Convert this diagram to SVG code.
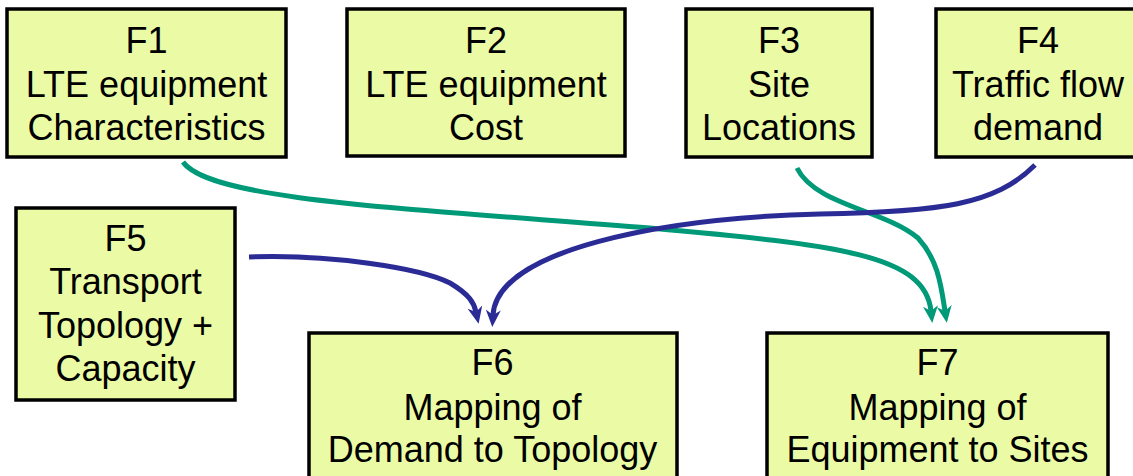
<svg xmlns="http://www.w3.org/2000/svg" width="1133" height="476" viewBox="0 0 1133 476">
<style>
.box{fill:#ebfba5;stroke:#000;stroke-width:3.5}
.t{font-family:"Liberation Sans",Arial,sans-serif;font-size:36px;fill:#000;text-anchor:middle}
.blue{fill:none;stroke:#2b2b96;stroke-width:5}
.green{fill:none;stroke:#009a78;stroke-width:5}
</style>
<defs>
<marker id="ab" markerUnits="userSpaceOnUse" viewBox="-8 -10 22 20" markerWidth="22" markerHeight="20" refX="0" refY="0" orient="auto">
<path d="M12,0 L-5,-7.5 L0,0 L-5,7.5 Z" fill="#2b2b96"/>
</marker>
<marker id="ag" markerUnits="userSpaceOnUse" viewBox="-8 -10 22 20" markerWidth="22" markerHeight="20" refX="0" refY="0" orient="auto">
<path d="M12,0 L-5,-7.5 L0,0 L-5,7.5 Z" fill="#009a78"/>
</marker>
</defs>
<rect width="1133" height="476" fill="#fff"/>
<g id="connectors">
<path class="green" marker-end="url(#ag)" d="M183,162 C210,200 400,208 650,228 C840,245 925,255 931,311"/>
<path class="green" marker-end="url(#ag)" d="M797,168 C815,205 885,210 918,238 C938,260 941,285 945,311"/>
<path class="blue" marker-end="url(#ab)" d="M1035,165 C995,205 940,212 820,214 C660,218 497,250 493,315"/>
<path class="blue" marker-end="url(#ab)" d="M249,257 C330,254 420,268 450,283 C470,295 474,303 476,312"/>
</g>
<g id="F1"><rect class="box" x="7" y="9" width="279" height="148"/>
<text class="t" x="146.5" y="53">F1</text><text class="t" x="146.5" y="97">LTE equipment</text><text class="t" x="146.5" y="140">Characteristics</text></g>
<g id="F2"><rect class="box" x="347" y="9" width="278" height="147"/>
<text class="t" x="486" y="53">F2</text><text class="t" x="486" y="97">LTE equipment</text><text class="t" x="486" y="140">Cost</text></g>
<g id="F3"><rect class="box" x="686" y="9" width="186" height="148"/>
<text class="t" x="779" y="53">F3</text><text class="t" x="779" y="97">Site</text><text class="t" x="779" y="140">Locations</text></g>
<g id="F4"><rect class="box" x="936" y="9" width="204" height="148"/>
<text class="t" x="1038" y="53">F4</text><text class="t" x="1038" y="97">Traffic flow</text><text class="t" x="1038" y="140">demand</text></g>
<g id="F5"><rect class="box" x="16" y="208" width="219" height="192"/>
<text class="t" x="125.5" y="251">F5</text><text class="t" x="125.5" y="294">Transport</text><text class="t" x="125.5" y="338">Topology +</text><text class="t" x="125.5" y="381">Capacity</text></g>
<g id="F6"><rect class="box" x="309" y="333" width="368" height="160"/>
<text class="t" x="492.5" y="375">F6</text><text class="t" x="492.5" y="420">Mapping of</text><text class="t" x="492.5" y="462">Demand to Topology</text></g>
<g id="F7"><rect class="box" x="767" y="333" width="341" height="160"/>
<text class="t" x="937.5" y="375">F7</text><text class="t" x="937.5" y="420">Mapping of</text><text class="t" x="937.5" y="462">Equipment to Sites</text></g>
</svg>
